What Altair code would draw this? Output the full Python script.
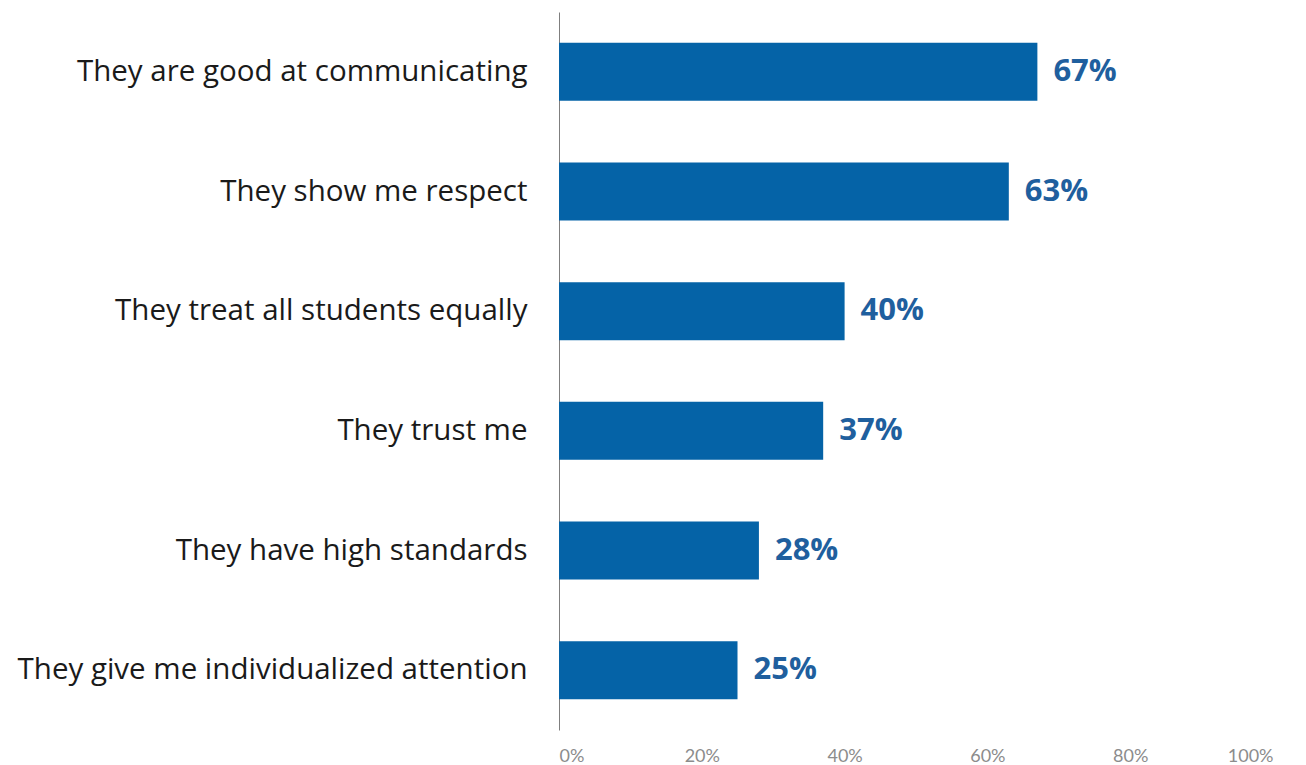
import altair as alt
import pandas as pd

categories = [
    "They are good at communicating",
    "They show me respect",
    "They treat all students equally",
    "They trust me",
    "They have high standards",
    "They give me individualized attention",
]
values = [0.67, 0.63, 0.40, 0.37, 0.28, 0.25]
labels = ["67%", "63%", "40%", "37%", "28%", "25%"]

df = pd.DataFrame({"category": categories, "value": values, "label": labels})

y_enc = alt.Y(
    "category:N",
    sort=categories,
    title=None,
    scale=alt.Scale(paddingInner=0.515, paddingOuter=0.2575),
    axis=alt.Axis(
        labelFont="Open Sans",
        labelFontSize=29.5,
        labelColor="#1a1a1a",
        labelPadding=32,
        ticks=False,
        domainColor="#7f7f7f",
        domainWidth=1,
        labelLimit=700,
    ),
)

bars = alt.Chart(df).mark_bar(color="#0563a7").encode(
    x=alt.X(
        "value:Q",
        title=None,
        scale=alt.Scale(domain=[0, 1], nice=False),
        axis=alt.Axis(
            format=".0%",
            values=[0, 0.2, 0.4, 0.6, 0.8, 1.0],
            labelFont="Lato",
            labelFontSize=18,
            labelColor="#8c8c8c",
            labelPadding=17,
            ticks=False,
            domain=False,
            grid=False,
        ),
    ),
    y=y_enc,
)

text = alt.Chart(df).mark_text(
    align="left", baseline="middle", dx=16, font="Open Sans", fontSize=31,
    fontWeight="bold", color="#1f5f9e"
).encode(
    x="value:Q",
    y=alt.Y("category:N", sort=categories),
    text="label:N",
)

chart = (bars + text).properties(
    width=714, height=718,
    autosize=alt.AutoSizeParams(type="none"),
    padding={"left": 551, "top": 4, "right": 25, "bottom": 37},
).configure_view(stroke=None).configure_axis(grid=False)

chart.save("out.html", embed_options={"renderer": "svg", "actions": False})
